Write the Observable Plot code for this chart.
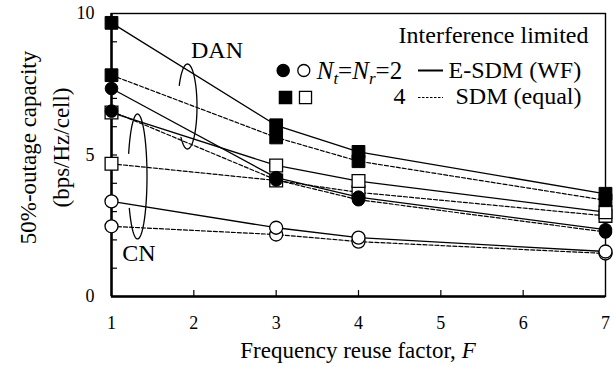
<!DOCTYPE html>
<html><head><meta charset="utf-8">
<script src="https://cdn.jsdelivr.net/npm/d3@7"></script>
<script src="https://cdn.jsdelivr.net/npm/@observablehq/plot@0.6"></script>
<style>body{margin:0;background:#fff}svg{display:block}</style>
</head><body><div id="chart"></div>
<script>
// ---- data ----
const F = [1, 3, 4, 7];
const xTicks = [1, 2, 3, 4, 5, 6, 7];
const yTicks = [0, 5, 10];
const yInnerTicks = [1, 2, 3, 4, 5, 6, 7, 8, 9];
const xInnerTicks = [2, 3, 4, 5, 6];
const dan4E = [9.67, 6.05, 5.11, 3.63];
const dan4S = [7.82, 5.62, 4.78, 3.40];
const dan2E = [7.35, 4.20, 3.51, 2.36];
const dan2S = [6.55, 4.12, 3.42, 2.28];
const cn4E  = [6.50, 4.63, 4.08, 2.98];
const cn4S  = [4.69, 4.10, 3.68, 2.85];
const cn2E  = [3.36, 2.43, 2.08, 1.59];
const cn2S  = [2.48, 2.19, 1.94, 1.52];

const seriesDefs = [
  {key: "CN 2 SDM",  vals: cn2S,  ant: 2, net: "CN",  scheme: "SDM"},
  {key: "CN 2 E",    vals: cn2E,  ant: 2, net: "CN",  scheme: "E-SDM"},
  {key: "CN 4 SDM",  vals: cn4S,  ant: 4, net: "CN",  scheme: "SDM"},
  {key: "CN 4 E",    vals: cn4E,  ant: 4, net: "CN",  scheme: "E-SDM"},
  {key: "DAN 2 SDM", vals: dan2S, ant: 2, net: "DAN", scheme: "SDM"},
  {key: "DAN 2 E",   vals: dan2E, ant: 2, net: "DAN", scheme: "E-SDM"},
  {key: "DAN 4 SDM", vals: dan4S, ant: 4, net: "DAN", scheme: "SDM"},
  {key: "DAN 4 E",   vals: dan4E, ant: 4, net: "DAN", scheme: "E-SDM"}
];
const rows = seriesDefs.flatMap(s => s.vals.map((v, i) => ({F: F[i], v, key: s.key, ant: s.ant, net: s.net, scheme: s.scheme})));

// ---- layout ----
const W = 614, H = 365, ML = 111, MR = 9, MT = 13, MB = 69;
const px2x = px => 1 + (px - ML) / (W - ML - MR) * 6;
const py2y = py => (H - MB - py) / (H - MB - MT) * 10;
const FONT = "'Liberation Serif', 'Times New Roman', serif";

function ellipsePts(cx, cy, rx, ry, t0, t1) {
  const pts = [];
  const n = 80;
  for (let i = 0; i <= n; i++) {
    const t = t0 + (t1 - t0) * i / n;
    pts.push({x: px2x(cx + rx * Math.cos(t)), y: py2y(cy + ry * Math.sin(t))});
  }
  return pts;
}
const danEllipse = ellipsePts(187, 106, 9.5, 42.5, 3.66, 8.61);
const cnEllipse = ellipsePts(137, 176, 9.5, 62.5, 3.52, 8.89);

const openC = rows.filter(d => d.net === "CN" && d.ant === 2);
const openS = rows.filter(d => d.net === "CN" && d.ant === 4);
const fillC = rows.filter(d => d.net === "DAN" && d.ant === 2);
const fillS = rows.filter(d => d.net === "DAN" && d.ant === 4);

const T = {fontFamily: FONT, fontSize: 23, fill: "black"};
const L = {fontFamily: FONT, fontSize: 24, fill: "black"};

const chart = Plot.plot({
  width: W, height: H,
  marginLeft: ML, marginRight: MR, marginTop: MT, marginBottom: MB,
  style: {fontFamily: FONT, fontSize: "18px", background: "white", color: "black"},
  x: {domain: [1, 7], ticks: xTicks, tickSize: 0, tickPadding: 20, label: null, tickFormat: d3.format("d")},
  y: {domain: [0, 10], ticks: yTicks, tickSize: 0, tickPadding: 17, label: null, tickFormat: d3.format("d")},
  marks: [
    Plot.frame({stroke: "black", strokeWidth: 1.4}),
    Plot.ruleX([1], {stroke: "black", strokeWidth: 2.5}),
    Plot.ruleY([0], {stroke: "black", strokeWidth: 2.5}),
    Plot.ruleX(xInnerTicks, {y1: 0, y2: 0.21, stroke: "black", strokeWidth: 1.2}),
    Plot.ruleY(yInnerTicks, {x1: 1, x2: px2x(ML + 6), stroke: "black", strokeWidth: 1.2}),
    // series lines
    Plot.line(rows.filter(d => d.scheme === "SDM"), {x: "F", y: "v", z: "key", stroke: "black", strokeWidth: 1.2, strokeDasharray: "4,2"}),
    Plot.line(rows.filter(d => d.scheme === "E-SDM"), {x: "F", y: "v", z: "key", stroke: "black", strokeWidth: 1.3}),
    // markers
    Plot.dot(openC, {x: "F", y: "v", r: 6.5, symbol: "circle", fill: "white", stroke: "black", strokeWidth: 1.3}),
    Plot.dot(openS, {x: "F", y: "v", r: 7.2, symbol: "square", fill: "white", stroke: "black", strokeWidth: 1.3}),
    Plot.dot(fillC, {x: "F", y: "v", r: 6.3, symbol: "circle", fill: "black", stroke: "black", strokeWidth: 1}),
    Plot.dot(fillS, {x: "F", y: "v", r: 7.2, symbol: "square", fill: "black", stroke: "black", strokeWidth: 1}),
    // annotations
    Plot.line(danEllipse, {x: "x", y: "y", stroke: "black", strokeWidth: 1.3}),
    Plot.line(cnEllipse, {x: "x", y: "y", stroke: "black", strokeWidth: 1.3}),
    Plot.text(["DAN"], {x: px2x(216.5), y: py2y(50), ...L}),
    Plot.text(["CN"], {x: px2x(138.5), y: py2y(253), ...L}),
    // legend
    Plot.text(["Interference limited"], {x: px2x(588), y: py2y(35), textAnchor: "end", ...L}),
    Plot.dot([0], {x: px2x(282.7), y: py2y(70), r: 6, symbol: "circle", fill: "black", stroke: "black"}),
    Plot.dot([0], {x: px2x(303.3), y: py2y(70), r: 6, symbol: "circle", fill: "white", stroke: "black", strokeWidth: 1.3}),
    Plot.dot([0], {x: px2x(285), y: py2y(97), r: 6.8, symbol: "square", fill: "black", stroke: "black"}),
    Plot.dot([0], {x: px2x(305), y: py2y(97), r: 6.8, symbol: "square", fill: "white", stroke: "black", strokeWidth: 1.3}),
    Plot.ruleY([py2y(70)], {x1: px2x(418), x2: px2x(443), stroke: "black", strokeWidth: 2}),
    Plot.ruleY([py2y(97)], {x1: px2x(418), x2: px2x(443), stroke: "black", strokeWidth: 1.2, strokeDasharray: "2.5,1.5"}),
    Plot.text(["E-SDM (WF)"], {x: px2x(448), y: py2y(70), textAnchor: "start", ...L}),
    Plot.text(["SDM (equal)"], {x: px2x(455), y: py2y(96), textAnchor: "start", ...L}),
    Plot.text(["4"], {x: px2x(399), y: py2y(96), ...L}),
    // y-axis title
    Plot.text(["50%-outage capacity\n(bps/Hz/cell)"], {x: px2x(41.5), y: py2y(147), rotate: -90, lineHeight: 1.42, ...T})
  ]
});

const svg = d3.select(chart);
const sx = chart.scale("x");
// N_t = N_r = 2
const t1 = svg.append("text")
  .attr("x", 316.7).attr("y", 70).attr("dy", "0.35em").attr("text-anchor", "start")
  .attr("font-size", 25).attr("fill", "black").attr("font-family", FONT);
t1.append("tspan").attr("font-style", "italic").text("N");
t1.append("tspan").attr("font-style", "italic").attr("font-size", 17).attr("dy", 5).text("t");
t1.append("tspan").attr("dy", -5).text("=");
t1.append("tspan").attr("font-style", "italic").text("N");
t1.append("tspan").attr("font-style", "italic").attr("font-size", 17).attr("dy", 5).text("r");
t1.append("tspan").attr("dy", -5).text("=2");
// x-axis title
const t2 = svg.append("text")
  .attr("x", sx.apply(4)).attr("y", 358).attr("text-anchor", "middle")
  .attr("font-size", 23).attr("fill", "black").attr("font-family", FONT);
t2.append("tspan").text("Frequency reuse factor, ");
t2.append("tspan").attr("font-style", "italic").text("F");

document.getElementById("chart").appendChild(chart);
</script>
</body></html>
